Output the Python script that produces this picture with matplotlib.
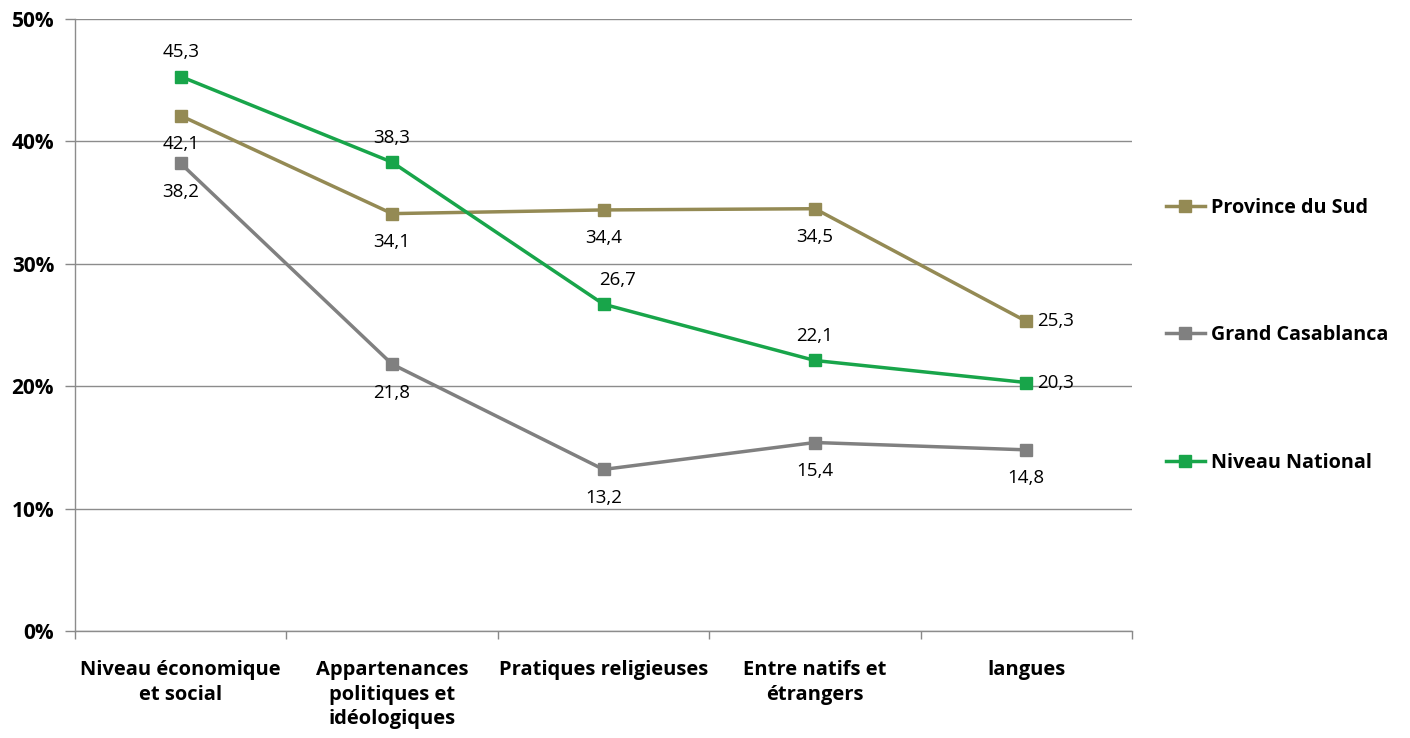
import matplotlib
matplotlib.use("Agg")
import matplotlib.pyplot as plt
import numpy as np

categories = ["Niveau économique\net social", "Appartenances\npolitiques et\nidéologiques",
              "Pratiques religieuses", "Entre natifs et\nétrangers", "langues"]
province_sud = [42.1, 34.1, 34.4, 34.5, 25.3]
grand_casa = [38.2, 21.8, 13.2, 15.4, 14.8]
national = [45.3, 38.3, 26.7, 22.1, 20.3]
series_names = ["Province du Sud", "Grand Casablanca", "Niveau National"]

colors = ["#948A54", "#808080", "#18A54A"]
# label placement: 'b' below, 'a' above, 'ar' above-right, 'r' right
pos_prov = ['b', 'b', 'b', 'b', 'r']
pos_casa = ['b', 'b', 'b', 'b', 'b']
pos_nat = ['a', 'a', 'ar', 'a', 'r']

plt.rcParams['font.family'] = ['Open Sans', 'DejaVu Sans']

fig = plt.figure(figsize=(14.1, 7.38), dpi=100)
ax = fig.add_axes([75/1410, 1-631/738, (1132-75)/1410, (631-19)/738])

x = np.arange(len(categories))
handles = []
for vals, col, name, pos in [(province_sud, colors[0], series_names[0], pos_prov),
                             (grand_casa, colors[1], series_names[1], pos_casa),
                             (national, colors[2], series_names[2], pos_nat)]:
    h, = ax.plot(x, vals, color=col, lw=2.5, marker='s', markersize=8,
                 markerfacecolor=col, markeredgecolor=col, label=name, zorder=3)
    handles.append(h)
    for xi, v, p in zip(x, vals, pos):
        lab = f"{v:.1f}".replace('.', ',')
        if p == 'b':
            ax.annotate(lab, (xi, v), xytext=(0, -14), textcoords='offset points',
                        ha='center', va='top', fontsize=13.5, color='black')
        elif p in ('a', 'ar'):
            dx = 10 if p == 'ar' else 0
            ax.annotate(lab, (xi, v), xytext=(dx, 11), textcoords='offset points',
                        ha='center', va='bottom', fontsize=13.5, color='black')
        else:
            ax.annotate(lab, (xi, v), xytext=(8, 0), textcoords='offset points',
                        ha='left', va='center', fontsize=13.5, color='black')

ax.set_xlim(-0.5, len(categories) - 0.5)
ax.set_ylim(0, 50)
ax.set_yticks([0, 10, 20, 30, 40, 50])
ax.set_yticklabels(["0%", "10%", "20%", "30%", "40%", "50%"], fontsize=15, fontweight='bold')
ax.set_xticks(x)
ax.set_xticklabels(categories, fontsize=14.5, fontweight='bold', linespacing=1.3)
ax.set_xticks(np.arange(-0.5, len(categories)), minor=True)
ax.tick_params(axis='x', which='major', length=0, pad=21)
ax.tick_params(axis='x', which='minor', length=6, color='#888888', width=1)
ax.tick_params(axis='y', length=7, color='#888888', width=1, pad=8)

ax.grid(axis='y', color='#8c8c8c', lw=1)
ax.set_axisbelow(True)
for s in ['top', 'right']:
    ax.spines[s].set_visible(False)
for s in ['left', 'bottom']:
    ax.spines[s].set_color('#8c8c8c')
    ax.spines[s].set_linewidth(1)

fig.legend(handles=handles, loc='upper left', bbox_to_anchor=(1148/1410, 1-180/738),
           frameon=False, prop={'weight': 'bold', 'size': 14.2}, labelspacing=5.45,
           handlelength=2.0, handletextpad=0.3)

fig.savefig("out.png", dpi=100)
